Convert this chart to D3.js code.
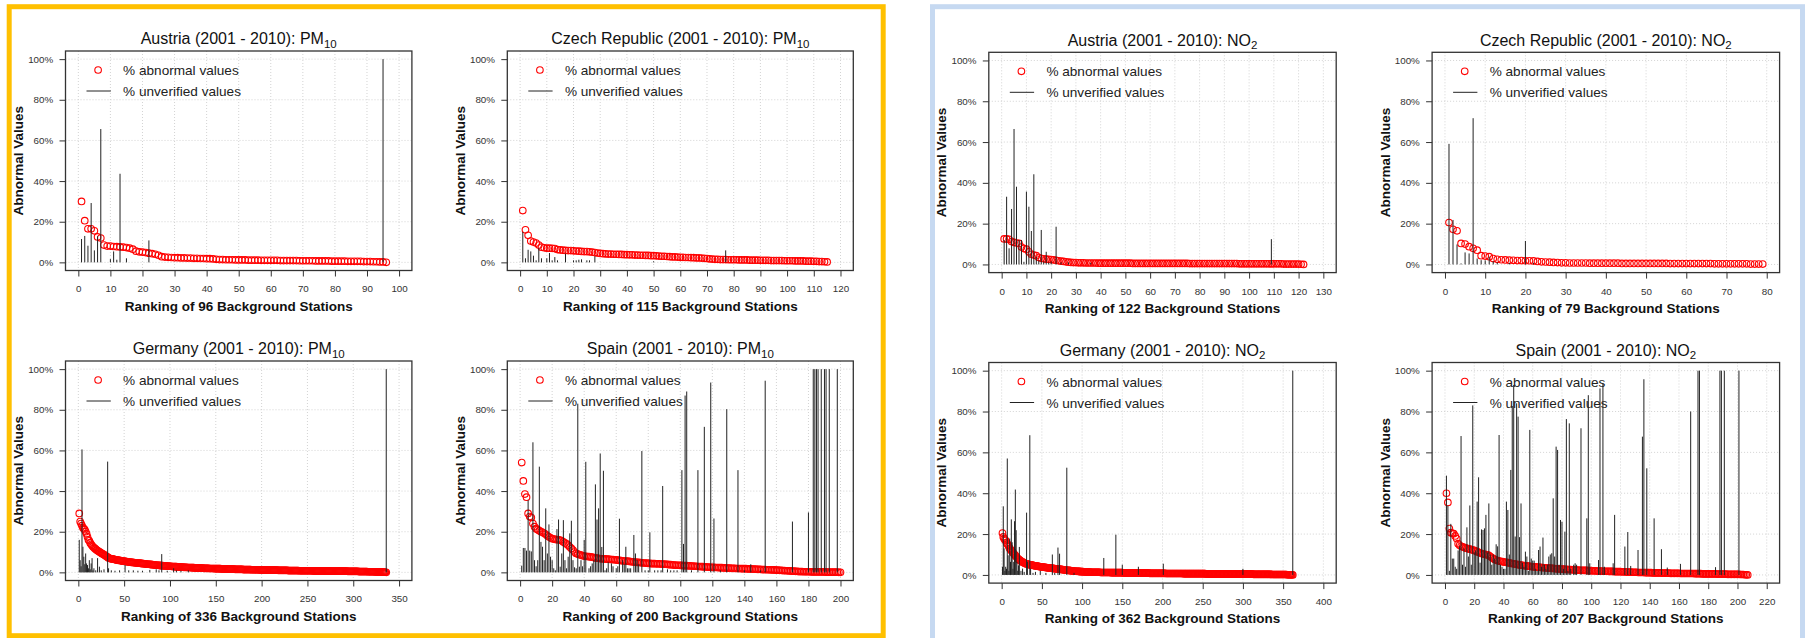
<!DOCTYPE html>
<html>
<head>
<meta charset="utf-8">
<script src="https://cdn.jsdelivr.net/npm/d3@7"></script>
<style>
  body { margin: 0; background: #fff; }
  svg { display: block; font-family: "Liberation Sans", Arial, Helvetica, sans-serif; }
</style>
</head>
<body>
<div id="chart"></div>
<script>
// % abnormal values per station, ranked
var austriaPM10Abnormal = [
  30,20.5,16.5,16.5,15.5,12.5,12,8.5,8,8,
  7.8,7.7,7.6,7.5,7.3,7,6.5,5.5,5.2,5,
  4.8,4.5,4.3,4,3.5,2.8,2.6,2.5,2.4,2.3,
  2.3,2.2,2.2,2.1,2.1,2,2,1.9,1.9,1.8,
  1.8,1.7,1.5,1.4,1.4,1.3,1.3,1.3,1.2,1.2,
  1.2,1.2,1.1,1.1,1.1,1.1,1,1,1,1,
  1,1,0.9,0.9,0.9,0.9,0.9,0.9,0.8,0.8,
  0.8,0.8,0.8,0.7,0.7,0.7,0.7,0.7,0.6,0.6,
  0.6,0.6,0.6,0.5,0.5,0.5,0.5,0.5,0.4,0.4,
  0.4,0.3,0.3,0.2,0.2,0
];
var czechPM10Abnormal = [
  25.5,16,13.3,10.5,10,9.5,8.5,7.5,7.2,7,
  7,6.9,6.8,6.3,6.1,6,5.9,5.8,5.8,5.7,
  5.6,5.5,5.4,5.3,5.3,5.2,5,4.8,4.6,4.4,
  4.3,4.2,4.1,4.1,4,4,3.9,3.9,3.8,3.8,
  3.7,3.7,3.6,3.6,3.5,3.5,3.4,3.4,3.3,3.3,
  3.2,3.1,3,3,2.9,2.8,2.7,2.7,2.6,2.5,
  2.5,2.4,2.4,2.3,2.3,2.2,2.2,2.1,2,1.9,
  1.7,1.6,1.5,1.5,1.4,1.4,1.4,1.3,1.3,1.3,
  1.3,1.2,1.2,1.2,1.2,1.1,1.1,1.1,1.1,1,
  1,1,1,0.9,0.9,0.9,0.9,0.9,0.8,0.8,
  0.8,0.8,0.7,0.7,0.7,0.7,0.6,0.6,0.6,0.5,
  0.5,0.4,0.4,0.3,0.2
];
var germanyPM10Abnormal = [
  29,25,24,23,22,21.5,21,20,19,17.5,
  16,15.5,14.5,13.8,13.2,12.6,12.2,11.8,11.4,11,
  10.7,10.4,10.1,9.8,9.5,9.2,9,8.7,8.4,8.1,
  7.8,7.5,7.1,6.9,6.8,6.7,6.6,6.5,6.4,6.3,
  6.2,6.1,6,5.9,5.9,5.8,5.7,5.6,5.5,5.5,
  5.4,5.3,5.3,5.2,5.1,5.1,5,4.9,4.9,4.8,
  4.8,4.7,4.7,4.6,4.6,4.5,4.5,4.4,4.4,4.3,
  4.3,4.2,4.2,4.1,4.1,4,4,3.9,3.9,3.8,
  3.8,3.7,3.7,3.6,3.6,3.5,3.5,3.4,3.4,3.3,
  3.3,3.3,3.2,3.2,3.2,3.1,3.1,3.1,3,3,
  3,2.9,2.9,2.9,2.8,2.8,2.8,2.7,2.7,2.7,
  2.6,2.6,2.6,2.6,2.5,2.5,2.5,2.5,2.4,2.4,
  2.4,2.4,2.3,2.3,2.3,2.3,2.2,2.2,2.2,2.2,
  2.2,2.1,2.1,2.1,2.1,2.1,2,2,2,2,
  2,2,1.9,1.9,1.9,1.9,1.9,1.9,1.8,1.8,
  1.8,1.8,1.8,1.8,1.8,1.7,1.7,1.7,1.7,1.7,
  1.7,1.7,1.6,1.6,1.6,1.6,1.6,1.6,1.6,1.6,
  1.5,1.5,1.5,1.5,1.5,1.5,1.5,1.5,1.5,1.4,
  1.4,1.4,1.4,1.4,1.4,1.4,1.4,1.4,1.3,1.3,
  1.3,1.3,1.3,1.3,1.3,1.3,1.3,1.2,1.2,1.2,
  1.2,1.2,1.2,1.2,1.2,1.2,1.2,1.1,1.1,1.1,
  1.1,1.1,1.1,1.1,1.1,1.1,1.1,1,1,1,
  1,1,1,1,1,1,1,1,0.9,0.9,
  0.9,0.9,0.9,0.9,0.9,0.9,0.9,0.9,0.9,0.9,
  0.8,0.8,0.8,0.8,0.8,0.8,0.8,0.8,0.8,0.8,
  0.8,0.8,0.8,0.8,0.8,0.7,0.7,0.7,0.7,0.7,
  0.7,0.7,0.7,0.7,0.7,0.7,0.7,0.7,0.7,0.7,
  0.7,0.7,0.7,0.6,0.6,0.6,0.6,0.6,0.6,0.6,
  0.6,0.6,0.6,0.6,0.6,0.6,0.6,0.6,0.6,0.6,
  0.6,0.6,0.6,0.5,0.5,0.5,0.5,0.5,0.5,0.5,
  0.5,0.5,0.5,0.5,0.5,0.4,0.4,0.4,0.4,0.4,
  0.4,0.4,0.4,0.4,0.4,0.3,0.3,0.3,0.3,0.3,
  0.3,0.3,0.3,0.2,0.2,0.2,0.2,0.2,0.2,0.2,
  0.2,0.1,0.1,0.1,0.05,0
];
var spainPM10Abnormal = [
  54,45,38.5,37,29,27.5,27,24,22.5,21.5,
  21,20.5,20,19.7,19.2,18.7,18,17.5,17,16.6,
  16.4,16.2,16.1,16,15.9,15.5,15,14.5,14,13.4,
  12.5,11.8,11,10,9.3,9,8.7,8.5,8.2,8,
  7.9,7.8,7.7,7.6,7.5,7.3,7.1,7,6.9,6.7,
  6.7,6.6,6.6,6.5,6.5,6.4,6.3,6.3,6.2,6.1,
  6,5.9,5.8,5.7,5.6,5.6,5.5,5.4,5.3,5.2,
  5.1,5,4.9,4.9,4.8,4.7,4.6,4.6,4.5,4.4,
  4.4,4.3,4.3,4.3,4.2,4.2,4.2,4.1,4.1,4.1,
  4,3.9,3.8,3.8,3.7,3.6,3.6,3.5,3.5,3.4,
  3.4,3.3,3.3,3.3,3.2,3.2,3.1,3.1,3,3,
  2.9,2.9,2.8,2.8,2.7,2.7,2.6,2.6,2.5,2.5,
  2.5,2.4,2.4,2.3,2.3,2.3,2.2,2.2,2.1,2.1,
  2.1,2,2,2,1.9,1.9,1.9,1.8,1.8,1.8,
  1.8,1.7,1.7,1.7,1.6,1.6,1.6,1.5,1.5,1.5,
  1.4,1.4,1.4,1.3,1.3,1.3,1.2,1.2,1.2,1.1,
  1.1,1,1,0.9,0.9,0.8,0.8,0.7,0.7,0.6,
  0.6,0.5,0.5,0.4,0.4,0.4,0.3,0.3,0.3,0.3,
  0.3,0.2,0.2,0.2,0.2,0.2,0.2,0.2,0.2,0.2,
  0.1,0.1,0.1,0.1,0.1,0.1,0.1,0.1,0,0
];
var austriaNO2Abnormal = [
  12.5,12.5,12.3,11.2,10.8,10.5,10.3,8.5,7.8,7.5,
  6.2,5,4.6,4.3,3.4,3,2.8,2.6,2.5,2.4,
  2.2,2,1.8,1.6,1.5,1.3,1.1,1,0.9,0.9,
  0.8,0.8,0.8,0.7,0.7,0.7,0.7,0.7,0.6,0.6,
  0.6,0.6,0.6,0.6,0.6,0.6,0.6,0.6,0.6,0.6,
  0.6,0.6,0.5,0.5,0.5,0.5,0.5,0.5,0.5,0.5,
  0.5,0.5,0.5,0.5,0.5,0.5,0.5,0.5,0.5,0.5,
  0.5,0.5,0.5,0.5,0.5,0.4,0.4,0.4,0.4,0.4,
  0.4,0.4,0.4,0.4,0.4,0.4,0.4,0.4,0.4,0.4,
  0.4,0.4,0.4,0.4,0.4,0.3,0.3,0.3,0.3,0.3,
  0.3,0.3,0.3,0.3,0.3,0.3,0.3,0.3,0.3,0.3,
  0.3,0.3,0.3,0.2,0.2,0.2,0.2,0.2,0.2,0.2,
  0.1,0
];
var czechNO2Abnormal = [
  20.5,17.2,16.5,10.3,10,8.7,7.9,7,4.3,4.1,
  3.8,2.9,2.5,2.3,2.2,2.1,2,1.9,1.9,1.8,
  1.8,1.7,1.5,1.3,1.2,1.1,1,0.9,0.8,0.8,
  0.7,0.7,0.7,0.7,0.7,0.6,0.6,0.6,0.6,0.6,
  0.6,0.6,0.6,0.5,0.5,0.5,0.5,0.5,0.5,0.5,
  0.5,0.5,0.5,0.5,0.5,0.4,0.4,0.4,0.4,0.4,
  0.4,0.4,0.4,0.4,0.4,0.4,0.3,0.3,0.3,0.3,
  0.3,0.3,0.3,0.3,0.3,0.2,0.2,0.2,0.2
];
var germanyNO2Abnormal = [
  20.5,18.6,17.8,17.2,16.8,15.8,15.2,14.6,13.8,13,
  12.4,12,11.5,11,10.5,10,9.5,9,8.5,8,
  7.7,7.4,7.1,6.8,6.5,6.3,6.1,5.9,5.7,5.5,
  5.4,5.3,5.2,5.1,5,4.9,4.8,4.8,4.7,4.6,
  4.5,4.5,4.4,4.3,4.2,4.2,4.1,4,4,3.9,
  3.8,3.8,3.7,3.7,3.6,3.6,3.5,3.5,3.4,3.4,
  3.3,3.3,3.2,3.2,3.1,3.1,3,3,2.9,2.9,
  2.8,2.8,2.7,2.7,2.6,2.6,2.5,2.5,2.4,2.4,
  2.3,2.3,2.2,2.2,2.1,2.1,2,2,1.9,1.9,
  1.9,1.8,1.8,1.8,1.7,1.7,1.7,1.6,1.6,1.6,
  1.6,1.5,1.5,1.5,1.5,1.4,1.4,1.4,1.4,1.4,
  1.3,1.3,1.3,1.3,1.3,1.3,1.3,1.3,1.3,1.3,
  1.3,1.3,1.2,1.2,1.2,1.2,1.2,1.2,1.2,1.2,
  1.2,1.2,1.2,1.2,1.2,1.1,1.1,1.1,1.1,1.1,
  1.1,1.1,1.1,1.1,1.1,1.1,1.1,1.1,1.1,1.1,
  1,1,1,1,1,1,1,1,1,1,
  1,1,1,1,1,0.9,0.9,0.9,0.9,0.9,
  0.9,0.9,0.9,0.9,0.9,0.9,0.9,0.9,0.9,0.9,
  0.9,0.9,0.9,0.8,0.8,0.8,0.8,0.8,0.8,0.8,
  0.8,0.8,0.8,0.8,0.8,0.8,0.8,0.8,0.8,0.8,
  0.8,0.8,0.8,0.7,0.7,0.7,0.7,0.7,0.7,0.7,
  0.7,0.7,0.7,0.7,0.7,0.7,0.7,0.7,0.7,0.7,
  0.7,0.7,0.7,0.7,0.7,0.6,0.6,0.6,0.6,0.6,
  0.6,0.6,0.6,0.6,0.6,0.6,0.6,0.6,0.6,0.6,
  0.6,0.6,0.6,0.6,0.6,0.6,0.6,0.6,0.6,0.6,
  0.6,0.6,0.6,0.5,0.5,0.5,0.5,0.5,0.5,0.5,
  0.5,0.5,0.5,0.5,0.5,0.5,0.5,0.5,0.5,0.5,
  0.5,0.5,0.5,0.5,0.5,0.5,0.5,0.5,0.5,0.5,
  0.5,0.5,0.4,0.4,0.4,0.4,0.4,0.4,0.4,0.4,
  0.4,0.4,0.4,0.4,0.4,0.4,0.4,0.4,0.4,0.4,
  0.4,0.4,0.4,0.4,0.4,0.4,0.4,0.4,0.4,0.4,
  0.4,0.4,0.3,0.3,0.3,0.3,0.3,0.3,0.3,0.3,
  0.3,0.3,0.3,0.3,0.3,0.3,0.3,0.3,0.3,0.3,
  0.3,0.3,0.3,0.3,0.3,0.2,0.2,0.2,0.2,0.2,
  0.2,0.2,0.2,0.2,0.2,0.2,0.2,0.2,0.2,0.2,
  0.2,0.2,0.2,0.2,0.1,0.1,0.1,0.1,0.1,0.1,
  0.1,0
];
var spainNO2Abnormal = [
  40,35.5,22.7,20.7,20.4,20.2,19.1,17.8,15.3,14.5,
  14,13.8,13.5,13.2,13,12.8,12.6,12.4,12.2,12,
  11.7,11.4,11.1,10.8,10.5,10.3,10.1,10,9.8,9.6,
  9,8.5,8,7.6,7.3,7,6.8,6.7,6.5,6.4,
  6.2,6.1,6,5.9,5.7,5.6,5.4,5.3,5.2,5,
  4.9,4.8,4.7,4.6,4.5,4.4,4.3,4.2,4.1,4,
  3.9,3.9,3.8,3.8,3.7,3.6,3.6,3.5,3.5,3.4,
  3.3,3.3,3.2,3.2,3.1,3,3,2.9,2.9,2.8,
  2.8,2.7,2.7,2.6,2.6,2.6,2.5,2.5,2.4,2.4,
  2.4,2.3,2.3,2.3,2.2,2.2,2.2,2.1,2.1,2.1,
  2,2,2,1.9,1.9,1.9,1.9,1.8,1.8,1.8,
  1.8,1.7,1.7,1.7,1.7,1.6,1.6,1.6,1.6,1.6,
  1.5,1.5,1.5,1.4,1.4,1.4,1.4,1.3,1.3,1.3,
  1.3,1.2,1.2,1.2,1.2,1.2,1.1,1.1,1.1,1.1,
  1.1,1,1,1,1,1,1,0.9,0.9,0.9,
  0.9,0.9,0.9,0.8,0.8,0.8,0.8,0.8,0.8,0.8,
  0.7,0.7,0.7,0.7,0.7,0.7,0.7,0.7,0.7,0.7,
  0.6,0.6,0.6,0.6,0.6,0.5,0.5,0.5,0.5,0.5,
  0.5,0.5,0.5,0.5,0.5,0.4,0.4,0.4,0.4,0.4,
  0.4,0.4,0.3,0.3,0.3,0.3,0.3,0.3,0.3,0.3,
  0.3,0.2,0.2,0.2,0.1,0.1,0
];

// % unverified values: [rank, value] for stations with a visible spike
var austriaPM10Unverified = [[1,11.5],[2,13],[3,8.2],[4,29.2],[5,5.9],[6,12.8],[7,65.6],[10,1.6],[11,5.4],[12,1.3],[13,43.6],[15,2],[22,10.8],[95,100]];
var czechPM10Unverified = [[1,15],[2,2],[3,6.2],[4,5.4],[5,3.3],[6,1],[7,7],[8,2],[10,2],[11,4.6],[12,1],[13,2.6],[14,1],[17,4.3],[20,1],[21,1],[22,1.3],[23,1.5],[25,1],[26,1],[28,3],[50,0.5],[77,5.9]];
var germanyPM10Unverified = [[1,16],[2,6],[3,3],[4,60.5],[5,12.6],[6,7.7],[7,4],[8,9.3],[9,4.4],[10,3.6],[11,2],[12,6],[13,1.5],[14,4.4],[15,7],[16,1],[17,2],[19,1],[21,7],[23,2.8],[25,1],[28,1.5],[32,54.5],[33,2],[36,1],[40,0.8],[45,1],[51,3.6],[55,1],[60,1],[65,0.8],[70,0.8],[78,1.2],[85,1.5],[88,1],[91,9],[97,0.8],[104,2],[107,1],[112,0.8],[120,1],[336,100]];
var spainPM10Unverified = [[1,3.3],[2,12],[3,12],[4,10.7],[5,35.5],[6,10.7],[7,10.3],[8,64],[9,6],[10,3],[11,6],[12,52],[13,15],[14,12.6],[15,6],[16,31.5],[17,9.3],[18,23.6],[19,7.7],[20,6],[21,2],[22,1],[23,21.3],[24,26],[25,2.8],[26,9.3],[27,25.7],[28,6],[29,2],[30,7.7],[31,19.2],[32,25.4],[33,6],[34,2.5],[35,2],[36,83],[37,2.8],[38,6],[39,3],[40,16],[41,54.4],[43,2],[44,3],[45,4.4],[46,6],[47,43.3],[48,26],[49,31.5],[50,58.5],[51,12.5],[52,50],[53,1],[54,2],[55,5],[57,4.4],[58,3],[60,2],[61,3],[62,26.4],[64,6],[65,4],[66,12.6],[67,2],[68,2],[69,2],[71,18.4],[72,9.3],[73,6],[74,4],[76,59.7],[78,1],[80,1],[81,19.7],[84,1],[86,1],[88,1],[89,42.5],[92,1.5],[94,1],[96,1],[98,1],[101,50.3],[102,14],[103,87],[104,89],[107,1],[111,50.3],[115,71.6],[119,93.4],[121,26.5],[125,1],[129,80.3],[136,50.3],[140,1],[144,4],[150,1],[153,94.3],[170,25],[180,29.5],[183,100],[184,100],[185,100],[186,100],[188,100],[190,100],[191,100],[193,100],[198,100]];
var austriaNO2Unverified = [[1,12],[2,33.2],[3,7.9],[4,27.2],[5,66.4],[6,38.1],[7,12],[8,12],[9,1.3],[10,35.7],[11,28.3],[12,16.4],[13,44.2],[14,3.8],[15,2],[16,16.9],[17,1.5],[18,6.2],[19,1],[20,1.5],[22,18.5],[24,1],[27,1],[36,0.8],[109,12.4]];
var czechNO2Unverified = [[1,59.1],[2,21.8],[3,9.8],[4,0.5],[5,5.9],[6,5.4],[7,71.7],[8,2.9],[9,2.1],[10,2],[11,3.8],[12,1.6],[13,1],[16,0.8],[20,11.5],[22,0.8]];
var germanyNO2Unverified = [[1,4],[2,33.6],[3,13],[4,2],[5,4],[6,3],[7,57],[8,9.6],[9,2],[10,17.8],[11,6.4],[12,27.2],[13,16],[14,3],[15,6.4],[16,26.3],[17,41.8],[18,21.9],[19,6.4],[20,2],[21,4.7],[22,13.7],[24,2],[26,3.1],[28,1.5],[31,30.5],[32,6.4],[35,68.4],[36,3],[39,1],[42,1.5],[48,2],[55,1],[63,10],[66,1],[70,13.4],[72,10.4],[81,52.5],[90,1],[127,8.3],[142,19.7],[150,5],[170,4],[201,5.5],[300,3],[362,100]];
var spainNO2Unverified = [[1,48.6],[2,34],[3,2],[4,25],[5,8],[6,8],[7,4],[8,3],[9,12],[10,14],[11,68],[12,5],[13,13],[14,4],[15,23.3],[16,9],[17,34],[18,5],[19,83],[20,11],[21,12],[22,35.9],[23,47.8],[24,6],[25,22.3],[26,22],[27,22.8],[28,29.4],[29,11],[30,35],[31,10],[32,5],[33,10],[34,8],[35,15],[36,14],[37,68.5],[38,5],[39,4],[40,3],[41,3],[42,35.9],[43,31.8],[44,10],[45,51.4],[46,82.7],[47,93],[48,18.8],[49,84],[50,77.5],[51,18.5],[52,35],[53,6],[54,4],[55,11.4],[56,9],[57,2],[58,71],[59,8],[60,7],[61,7],[62,3],[63,2],[64,12.2],[65,13.9],[66,4],[67,18.3],[68,5],[69,3],[70,5],[71,9],[72,10],[73,10.6],[74,37.5],[75,9],[76,62.8],[77,61.2],[78,5],[79,26.9],[80,26],[81,3],[82,21.2],[83,76.3],[84,2],[85,74.2],[86,3],[88,5],[89,5.7],[90,5],[93,71.8],[97,27.7],[98,88],[99,5.7],[105,7.3],[106,91.3],[108,93.8],[109,4],[115,5.7],[116,29.4],[123,13.9],[125,21],[127,4.4],[132,12.2],[135,67.7],[136,95.8],[138,52.2],[143,27.7],[148,12.6],[152,3.6],[161,5.4],[168,80],[173,100],[174,100],[185,3.8],[188,100],[189,100],[191,100],[201,100]];

var countries = ['Austria', 'Czech Republic', 'Germany', 'Spain'];
var stationCounts = [96, 115, 336, 200, 122, 79, 362, 207];
var xMaxValues = [100, 120, 350, 200, 130, 80, 400, 220];
var xTickSteps = [10, 10, 50, 20, 10, 10, 50, 20];
var yTickValues = [0, 20, 40, 60, 80, 100];

// panel layout
var panels = [
  {country: 0, pol: 'PM', sub: '10', abn: austriaPM10Abnormal, unv: austriaPM10Unverified, left: 65.5, top: 51, w: 346.4, h: 219.5},
  {country: 1, pol: 'PM', sub: '10', abn: czechPM10Abnormal, unv: czechPM10Unverified, left: 507.3, top: 51, w: 346, h: 219.5},
  {country: 2, pol: 'PM', sub: '10', abn: germanyPM10Abnormal, unv: germanyPM10Unverified, left: 65.5, top: 361, w: 346.4, h: 219.5},
  {country: 3, pol: 'PM', sub: '10', abn: spainPM10Abnormal, unv: spainPM10Unverified, left: 507.3, top: 361, w: 346, h: 219.5},
  {country: 0, pol: 'NO', sub: '2', abn: austriaNO2Abnormal, unv: austriaNO2Unverified, left: 988.8, top: 52.3, w: 347.4, h: 220.3},
  {country: 1, pol: 'NO', sub: '2', abn: czechNO2Abnormal, unv: czechNO2Unverified, left: 1432.1, top: 52.3, w: 347.5, h: 220.3},
  {country: 2, pol: 'NO', sub: '2', abn: germanyNO2Abnormal, unv: germanyNO2Unverified, left: 988.8, top: 362.5, w: 347.4, h: 220.6},
  {country: 3, pol: 'NO', sub: '2', abn: spainNO2Abnormal, unv: spainNO2Unverified, left: 1432.1, top: 362.5, w: 347.5, h: 220.6}
];

var svg = d3.select('#chart')
    .append('svg')
    .attr('width', 1805)
    .attr('height', 638)
    .style('background-color', '#fff');

// group frames
svg.append('rect')
    .attr('x', 9.2).attr('y', 6.7)
    .attr('width', 874).attr('height', 629)
    .attr('fill', 'none')
    .attr('stroke', '#ffc000')
    .attr('stroke-width', 5);
svg.append('rect')
    .attr('x', 932.5).attr('y', 6.7)
    .attr('width', 870).attr('height', 636)
    .attr('fill', 'none')
    .attr('stroke', '#c6d9f1')
    .attr('stroke-width', 5);

panels.forEach(function(p, i) {
  var xmax = xMaxValues[i];
  var bottom = p.top + p.h;
  var scaleX = d3.scaleLinear()
      .domain([-0.04 * xmax, 1.04 * xmax])
      .range([p.left, p.left + p.w]);
  var scaleY = d3.scaleLinear()
      .domain([-4, 104])
      .range([bottom, p.top]);
  var xTicks = d3.range(0, xmax + 1, xTickSteps[i]);
  var g = svg.append('g');

  // grid
  g.selectAll('.gridX')
      .data(xTicks)
      .enter()
      .append('line')
      .attr('x1', function(d) { return scaleX(d); })
      .attr('x2', function(d) { return scaleX(d); })
      .attr('y1', p.top)
      .attr('y2', bottom)
      .attr('stroke', '#d3d3d3')
      .attr('stroke-dasharray', '1,2');
  g.selectAll('.gridY')
      .data(yTickValues)
      .enter()
      .append('line')
      .attr('x1', p.left)
      .attr('x2', p.left + p.w)
      .attr('y1', function(d) { return scaleY(d); })
      .attr('y2', function(d) { return scaleY(d); })
      .attr('stroke', '#d3d3d3')
      .attr('stroke-dasharray', '1,2');

  // axes
  var axisX = d3.axisBottom(scaleX)
      .tickValues(xTicks)
      .tickSize(6)
      .tickSizeOuter(0)
      .tickPadding(9);
  g.append('g')
      .attr('transform', 'translate(0,' + bottom + ')')
      .call(axisX)
      .call(function(a) { a.select('.domain').remove(); });
  var axisY = d3.axisLeft(scaleY)
      .tickValues(yTickValues)
      .tickSize(6)
      .tickSizeOuter(0)
      .tickPadding(6.3)
      .tickFormat(function(d) { return d + '%'; });
  g.append('g')
      .attr('transform', 'translate(' + p.left + ',0)')
      .call(axisY)
      .call(function(a) { a.select('.domain').remove(); });
  g.selectAll('.tick line').attr('stroke', '#333');
  g.selectAll('.tick text')
      .attr('font-family', '"Liberation Sans", Arial, sans-serif')
      .attr('font-size', 9.8)
      .attr('fill', '#333');
  g.selectAll('g').attr('font-family', null).attr('font-size', null);

  // plot box
  g.append('rect')
      .attr('x', p.left).attr('y', p.top)
      .attr('width', p.w).attr('height', p.h)
      .attr('fill', 'none')
      .attr('stroke', '#333')
      .attr('stroke-width', 1.3);

  // legend
  g.append('circle')
      .attr('cx', p.left + 32.6)
      .attr('cy', p.top + 19)
      .attr('r', 3.3)
      .attr('fill', 'none')
      .attr('stroke', '#ff0000')
      .attr('stroke-width', 1.1);
  g.append('line')
      .attr('x1', p.left + 21).attr('x2', p.left + 45.3)
      .attr('y1', p.top + 40).attr('y2', p.top + 40)
      .attr('stroke', '#222');
  g.selectAll('.legendText')
      .data(['% abnormal values', '% unverified values'])
      .enter()
      .append('text')
      .attr('x', p.left + 57.6)
      .attr('y', function(d, k) { return p.top + 24 + k * 21; })
      .attr('font-size', 13.6)
      .attr('fill', '#222')
      .text(function(d) { return d; });

  // abnormal values (circles)
  g.append('g').selectAll('circle')
      .data(p.abn)
      .enter()
      .append('circle')
      .attr('cx', function(d, k) { return scaleX(k + 1); })
      .attr('cy', function(d) { return scaleY(d); })
      .attr('r', 3.3)
      .attr('fill', 'none')
      .attr('stroke', '#ff0000')
      .attr('stroke-width', 1.1);

  // unverified values (vertical lines)
  g.append('g').selectAll('line')
      .data(p.unv)
      .enter()
      .append('line')
      .attr('x1', function(d) { return scaleX(d[0]); })
      .attr('x2', function(d) { return scaleX(d[0]); })
      .attr('y1', scaleY(0))
      .attr('y2', function(d) { return scaleY(d[1]); })
      .attr('stroke', '#222')
      .attr('stroke-width', 1);

  // title
  var title = g.append('text')
      .attr('x', p.left + p.w / 2)
      .attr('y', p.top - 6.7)
      .attr('text-anchor', 'middle')
      .attr('font-size', 16)
      .attr('fill', '#111');
  title.append('tspan').text(countries[p.country] + ' (2001 - 2010): ' + p.pol);
  title.append('tspan').attr('font-size', 11.5).attr('dy', 3.5).text(p.sub);

  // axis labels
  g.append('text')
      .attr('x', p.left + p.w / 2)
      .attr('y', bottom + 40)
      .attr('text-anchor', 'middle')
      .attr('font-size', 13.5)
      .attr('font-weight', 'bold')
      .attr('fill', '#111')
      .text('Ranking of ' + stationCounts[i] + ' Background Stations');
  g.append('text')
      .attr('transform', 'translate(' + (p.left - 42.5) + ',' + (p.top + p.h / 2) + ') rotate(-90)')
      .attr('text-anchor', 'middle')
      .attr('font-size', 13.5)
      .attr('font-weight', 'bold')
      .attr('fill', '#111')
      .text('Abnormal Values');
});
</script>
</body>
</html>
